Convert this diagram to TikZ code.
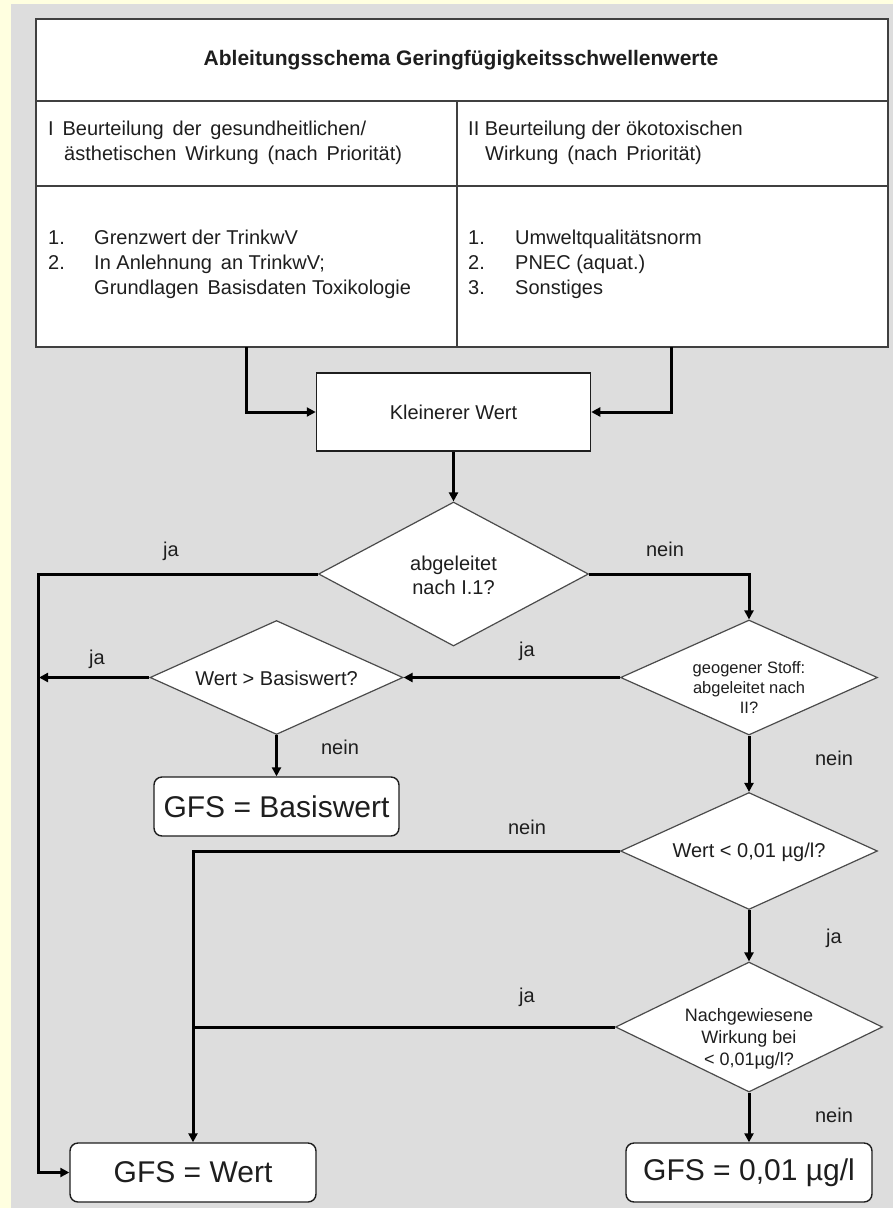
\documentclass[tikz,border=0pt]{standalone}
\usepackage{fontspec}
\setmainfont{Liberation Sans}
\usetikzlibrary{shapes.geometric,arrows.meta,calc}
\definecolor{bgyellow}{RGB}{255,255,224}
\definecolor{bggray}{RGB}{221,221,221}
\definecolor{ink}{RGB}{30,30,30}
\begin{document}
\begin{tikzpicture}[x=1pt,y=-1pt,
  conn/.style={line width=3pt, draw=black},
  arr/.style={conn,-{Triangle[length=9pt,width=9pt]}},
  dec/.style={diamond, draw=ink!80, line width=1.2pt, fill=white, inner sep=0pt},
  res/.style={rectangle, rounded corners=8pt, draw=ink, line width=1.4pt, fill=white, inner sep=0pt},
  body/.style={font=\fontsize{20}{25}\selectfont, text=ink, inner sep=0pt},
  small/.style={font=\fontsize{16.5}{20}\selectfont, text=ink, inner sep=0pt, align=center},
  mid/.style={font=\fontsize{18}{22}\selectfont, text=ink, inner sep=0pt, align=center},
  big/.style={font=\fontsize{30}{34}\selectfont, text=ink, inner sep=0pt},
  lbl/.style={font=\fontsize{20}{24}\selectfont, text=ink, inner sep=0pt},
  tline/.style={draw=ink!85, line width=2pt}
]
\useasboundingbox (0,0) rectangle (893,1208);
\fill[bgyellow] (0,0) rectangle (893,1208);
\fill[bggray] (11,4) rectangle (893,1208);

% table
\node[draw=ink!85, line width=2pt, fill=white, minimum width=852pt, minimum height=328pt, inner sep=0pt, anchor=north west] (tbl) at (35,18) {};
\draw[tline] (35,101) -- (887,101);
\draw[tline] (35,186) -- (887,186);
\draw[tline] (457,101) -- (457,346);
\node[font=\bfseries\fontsize{21}{25}\selectfont, text=ink, inner sep=0pt] (title) at (461,60) {Ableitungsschema Geringfügigkeitsschwellenwerte};

\node[body, anchor=mid west] (h1a) at (48,133) {I\, Beurteilung\, der\, gesundheitlichen/};
\node[body, anchor=mid west] (h1b) at (64,158) {ästhetischen\, Wirkung\, (nach\, Priorität)};
\node[body, anchor=mid west] (h2a) at (468,133) {II Beurteilung der ökotoxischen};
\node[body, anchor=mid west] (h2b) at (485,158) {Wirkung\, (nach\, Priorität)};

\node[body, anchor=mid west] (n11) at (48,242) {1.};
\node[body, anchor=mid west] (t11) at (94,242) {Grenzwert der TrinkwV};
\node[body, anchor=mid west] (n12) at (48,267) {2.};
\node[body, anchor=mid west] (t12) at (94,267) {In Anlehnung\, an TrinkwV;};
\node[body, anchor=mid west] (t13) at (94,292) {Grundlagen\, Basisdaten Toxikologie};

\node[body, anchor=mid west] (n21) at (468,242) {1.};
\node[body, anchor=mid west] (t21) at (515,242) {Umweltqualitätsnorm};
\node[body, anchor=mid west] (n22) at (468,267) {2.};
\node[body, anchor=mid west] (t22) at (515,267) {PNEC (aquat.)};
\node[body, anchor=mid west] (n23) at (468,292) {3.};
\node[body, anchor=mid west] (t23) at (515,292) {Sonstiges};

% Kleinerer Wert
\node[draw=ink, line width=1.5pt, fill=white, minimum width=274pt, minimum height=78pt, inner sep=0pt, body] (k) at (453.5,412) {Kleinerer Wert};

\coordinate (tl) at (246,347);
\coordinate (tr) at (671,347);
\draw[arr] (tl) |- (k.west);
\draw[arr] (tr) |- (k.east);

% decisions
\node[dec, minimum width=270pt, minimum height=144pt] (d1) at (453.5,574) {};
\node[body, align=center, font=\fontsize{20}{24}\selectfont] (d1t) at (453.5,575) {abgeleitet\\nach I.1?};
\node[dec, minimum width=257pt, minimum height=115pt] (d2) at (749,677.5) {};
\node[small] (d2t) at (749,688) {geogener Stoff:\\abgeleitet nach\\II?};
\node[dec, minimum width=253pt, minimum height=114pt] (d3) at (276.5,677.5) {};
\node[body] (d3t) at (276.5,678) {Wert > Basiswert?};
\node[dec, minimum width=257pt, minimum height=117pt] (d4) at (749,851) {};
\node[body] (d4t) at (749,852) {Wert < 0,01 µg/l?};
\node[dec, minimum width=267pt, minimum height=130pt] (d5) at (749,1027) {};
\node[mid] (d5t) at (749,1039) {Nachgewiesene\\Wirkung bei\\< 0,01µg/l?};

% results
\node[res, minimum width=245pt, minimum height=59pt, big] (rb) at (276.5,806.5) {GFS = Basiswert};
\node[res, minimum width=246pt, minimum height=59pt, big] (rw) at (193,1172.5) {GFS = Wert};
\node[res, minimum width=246pt, minimum height=59pt, big] (r01) at (749,1172.5) {GFS = 0,01 µg/l};

% connectors
\coordinate (L1) at (38,574);
\coordinate (L3) at (39,677.5);
\draw[arr] (k.south) -- (d1.north);
\draw[arr] (d1.west) -- (L1) |- (rw.west);
\draw[arr] (d1.east) -| (d2.north);
\draw[arr] (d2.west) -- (d3.east);
\draw[arr] (d3.west) -- (L3);
\draw[arr] (d3.south) -- (rb.north);
\draw[arr] (d2.south) -- (d4.north);
\draw[arr] (d4.west) -| (rw.north);
\draw[arr] (d4.south) -- (d5.north);
\draw[conn] (d5.west) -- (rw.north |- d5.west);
\draw[arr] (d5.south) -- (r01.north);

% labels
\node[lbl] (l1) at (171,551) {ja};
\node[lbl] (l2) at (665,549) {nein};
\node[lbl] (l3) at (97,659) {ja};
\node[lbl] (l4) at (527,651) {ja};
\node[lbl] (l5) at (340,747) {nein};
\node[lbl] (l6) at (834,758) {nein};
\node[lbl] (l7) at (527,827) {nein};
\node[lbl] (l8) at (834,938) {ja};
\node[lbl] (l9) at (527,997) {ja};
\node[lbl] (l10) at (834,1115) {nein};
\end{tikzpicture}
\end{document}
